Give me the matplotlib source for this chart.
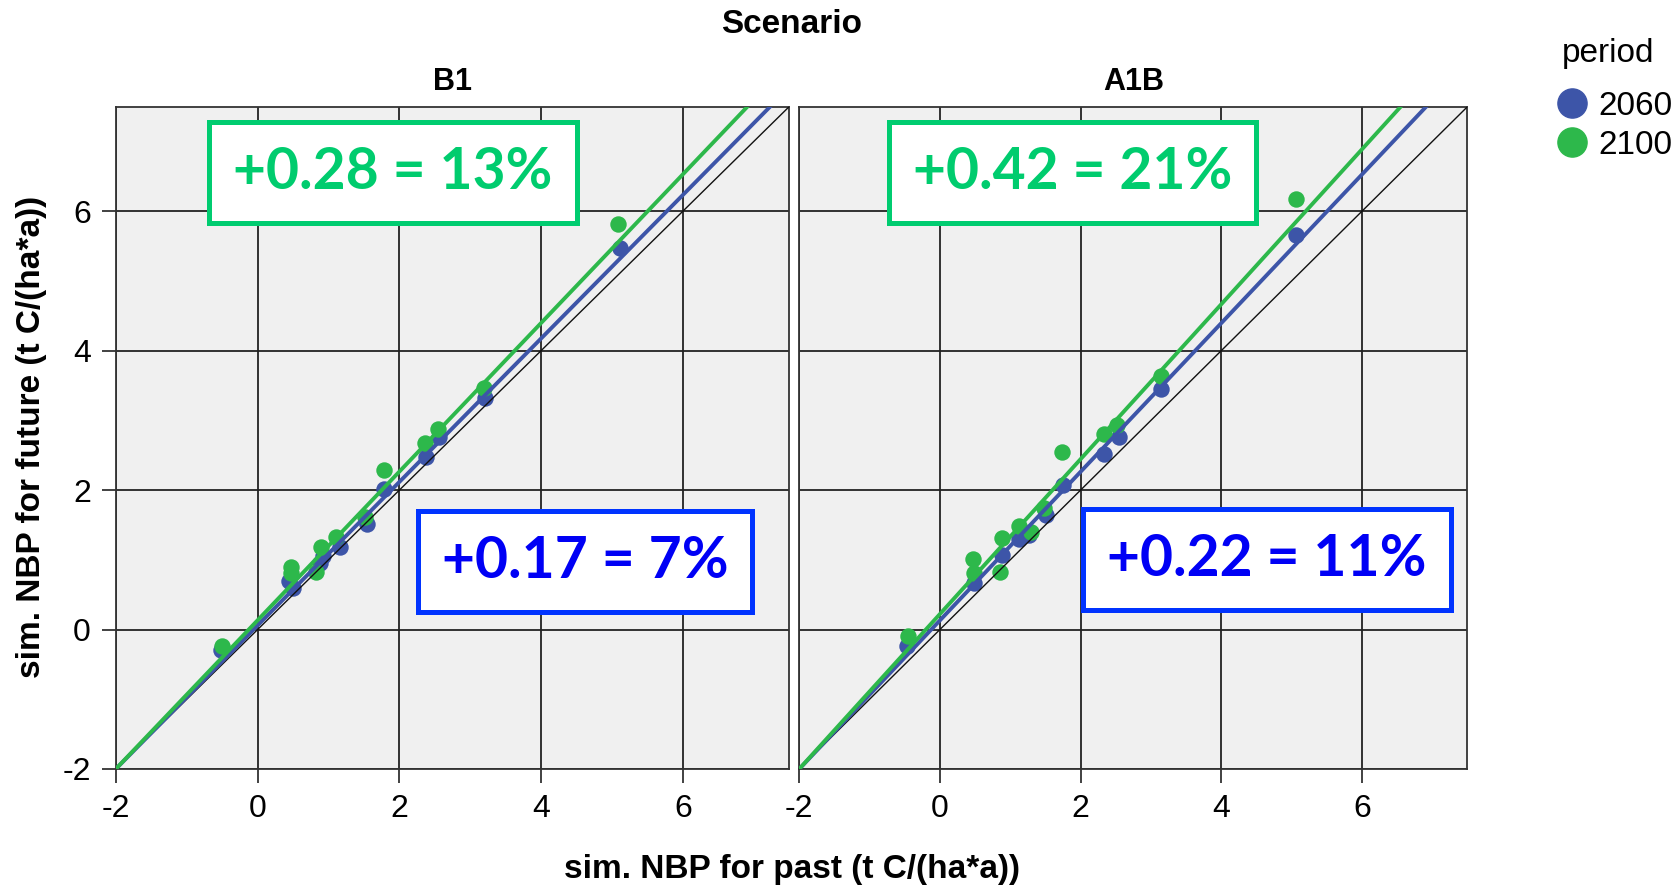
import numpy as np
import matplotlib
matplotlib.use("Agg")
import matplotlib.pyplot as plt
from matplotlib.lines import Line2D

plt.rcParams['font.family'] = ['Liberation Sans', 'DejaVu Sans']
plt.rcParams['axes.unicode_minus'] = False

# data
scenarios = ["B1", "A1B"]
periods = ["2060", "2100"]

b1_past_2060 = [-0.52, 0.45, 0.50, 0.88, 0.92, 1.16, 1.54, 1.79, 2.37, 2.56, 3.21, 5.11]
b1_fut_2060 = [-0.29, 0.69, 0.60, 0.95, 1.05, 1.19, 1.52, 2.01, 2.48, 2.76, 3.32, 5.48]
b1_past_2100 = [-0.50, 0.47, 0.47, 0.83, 0.90, 1.10, 1.52, 1.79, 2.36, 2.55, 3.20, 5.09]
b1_fut_2100 = [-0.23, 0.90, 0.81, 0.82, 1.19, 1.33, 1.62, 2.29, 2.67, 2.87, 3.46, 5.82]

a1b_past_2060 = [-0.47, 0.49, 0.89, 1.12, 1.27, 1.51, 1.75, 2.34, 2.54, 3.14, 5.06]
a1b_fut_2060 = [-0.24, 0.67, 1.07, 1.30, 1.36, 1.64, 2.07, 2.52, 2.76, 3.45, 5.66]
a1b_past_2100 = [-0.45, 0.47, 0.49, 0.85, 0.88, 1.12, 1.29, 1.48, 1.74, 2.33, 2.52, 3.14, 5.06]
a1b_fut_2100 = [-0.09, 1.01, 0.81, 0.83, 1.31, 1.49, 1.40, 1.74, 2.55, 2.81, 2.93, 3.63, 6.17]

# fit lines (slope, intercept) per period
b1_fit = [(1.029, 0.059), (1.066, 0.133)]
a1b_fit = [(1.066, 0.131), (1.111, 0.222)]

b1_labels = ["+0.17 = 7%", "+0.28 = 13%"]
a1b_labels = ["+0.22 = 11%", "+0.42 = 21%"]

ticks = [-2, 0, 2, 4, 6]

point_colors = ["#3D55A8", "#2DB84B"]
box_colors = ["#0033FF", "#00CC70"]
text_colors = ["#0000F5", "#00CC6E"]

panels = [
    (b1_past_2060, b1_fut_2060, b1_past_2100, b1_fut_2100, b1_fit, b1_labels),
    (a1b_past_2060, a1b_fut_2060, a1b_past_2100, a1b_fut_2100, a1b_fit, a1b_labels),
]
label_pos = [[(4.62, 0.98), (1.91, 6.55)], [(4.65, 1.0), (1.89, 6.55)]]

fig = plt.figure(figsize=(16.79, 8.89), dpi=100)
axes = [fig.add_axes([0.069, 0.135, 0.401, 0.745]),
        fig.add_axes([0.476, 0.135, 0.398, 0.745])]

for i, ax in enumerate(axes):
    px0, fy0, px1, fy1, fits, labels = panels[i]
    ax.set_facecolor("#F0F0F0")
    ax.set_xlim(-2, 7.5)
    ax.set_ylim(-2, 7.5)
    ax.set_xticks(ticks)
    ax.set_yticks(ticks)
    ax.grid(True, color="#222222", lw=1.3)
    ax.set_axisbelow(True)
    for s in ax.spines.values():
        s.set_color("#333333")
        s.set_linewidth(1.3)
    ax.tick_params(direction="out", length=10, width=1.3, color="#333333",
                   labelsize=23, pad=8)
    if i == 1:
        ax.tick_params(axis="y", length=0, labelleft=False)

    ax.scatter(px0, fy0, s=140, color=point_colors[0], zorder=3, linewidths=0)
    ax.scatter(px1, fy1, s=140, color=point_colors[1], zorder=3, linewidths=0)

    lims = np.array(ax.get_xlim())
    ax.plot(lims, lims, color="#111111", lw=1.0, zorder=4)
    xs = np.linspace(lims[0], lims[1], 50)
    for k, (m, b) in enumerate(fits):
        ax.plot(xs, m * xs + b, color=point_colors[k], lw=2.8, zorder=5)

    for k in range(2):
        x, y = label_pos[i][k]
        ax.text(x, y, labels[k], ha="center", va="center", fontsize=41,
                fontweight="bold", family=["Lato", "DejaVu Sans"],
                color=text_colors[k], zorder=6,
                bbox=dict(boxstyle="square,pad=0.42", fc="white",
                          ec=box_colors[k], lw=3.6))

    ax.text(0.5, 1.037, scenarios[i], transform=ax.transAxes, ha="center",
            va="center", fontsize=22, fontweight="bold")

fig.text(0.4717, 0.973, "Scenario", ha="center", va="center",
         fontsize=24, fontweight="bold")
fig.text(0.4717, 0.022, "sim. NBP for past (t C/(ha*a))", ha="center",
         va="center", fontsize=24, fontweight="bold")
fig.text(0.019, 0.508, "sim. NBP for future (t C/(ha*a))", ha="center",
         va="center", rotation=90, fontsize=24, fontweight="bold")

fig.text(0.958, 0.94, "period", ha="center", va="center", fontsize=24)
handles = [Line2D([], [], ls="", marker="o", markersize=21,
                  color=point_colors[k]) for k in range(2)]
fig.legend(handles, periods, loc="upper left", bbox_to_anchor=(0.9244, 0.898),
           frameon=False, fontsize=24, handletextpad=0.2, labelspacing=0.25,
           handlelength=1.2, borderpad=0, borderaxespad=0)

fig.savefig("out.png", dpi=100)
